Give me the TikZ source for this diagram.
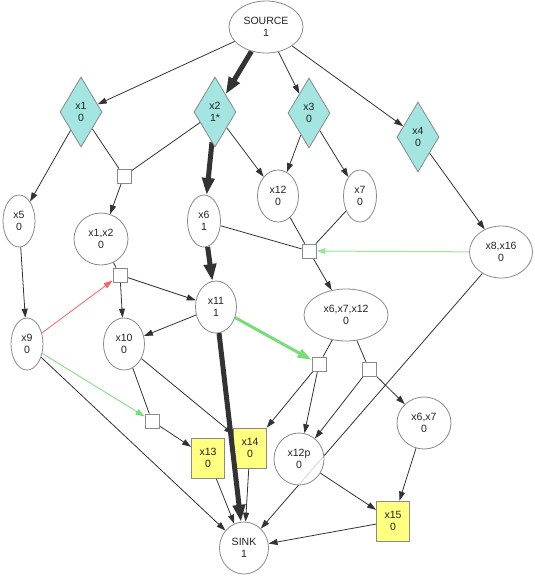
\documentclass[tikz,border=0pt]{standalone}
\usepackage{fontspec}
\setmainfont{Liberation Sans}
\usetikzlibrary{shapes.geometric,arrows.meta,backgrounds}
\definecolor{edgec}{HTML}{333333}
\definecolor{bordc}{HTML}{8A8A8A}
\definecolor{textc}{HTML}{222222}
\definecolor{diac}{HTML}{A3E5E0}
\definecolor{ylw}{HTML}{FFFF80}
\definecolor{redc}{HTML}{FF6060}
\definecolor{grnc}{HTML}{77DD77}
\definecolor{lgrn}{HTML}{99E699}
\begin{document}
\begin{tikzpicture}[x=1pt,y=-1pt,
  every node/.style={font=\fontsize{10.5}{12.5}\selectfont, text=textc, align=center, inner sep=0pt, line width=0.8pt},
  ell/.style={ellipse, draw=bordc, fill=white, fill opacity=0.8, text opacity=1},
  dia/.style={diamond, draw=bordc, fill=diac, minimum width=42pt, minimum height=70pt, aspect=0.6},
  ybox/.style={rectangle, draw=bordc, fill=ylw, minimum width=33pt, minimum height=40pt},
  sq/.style={rectangle, draw=bordc, fill=white, minimum size=14pt},
  arr/.style={draw=edgec, line width=0.8pt, -{Triangle[length=9pt,width=6pt]}},
  lnk/.style={draw=edgec, line width=0.8pt},
  thk/.style={draw=edgec, line width=5pt, -{Triangle[length=17pt,width=12pt]}},
  grthk/.style={draw=grnc, line width=3pt, -{Triangle[length=14pt,width=9pt]}},
  grthin/.style={draw=grnc, line width=0.8pt, -{Triangle[length=9pt,width=6pt]}},
  lgthin/.style={draw=lgrn, line width=1pt, -{Triangle[length=9pt,width=6pt]}},
  rdthin/.style={draw=redc, line width=0.8pt, -{Triangle[length=9pt,width=6pt]}},
]
\useasboundingbox (0,0) rectangle (535,576);

\node[ell, minimum width=74pt, minimum height=52pt] (src) at (266,27) {SOURCE\\1};
\node[dia] (x1) at (81,112) {x1\\0};
\node[dia] (x2) at (215,112) {x2\\1*};
\node[dia] (x3) at (309,113) {x3\\0};
\node[dia] (x4) at (418,137) {x4\\0};
\node[sq] (s1) at (124,176) {};
\node[ell, minimum width=32pt, minimum height=52pt] (x5) at (19,221) {x5\\0};
\node[ell, minimum width=54pt, minimum height=52pt] (x1x2) at (101,239) {x1,x2\\0};
\node[ell, minimum width=33pt, minimum height=52pt] (x6) at (204,221) {x6\\1};
\node[ell, minimum width=41pt, minimum height=52pt] (x12) at (278,196) {x12\\0};
\node[ell, minimum width=33pt, minimum height=52pt] (x7) at (360,196) {x7\\0};
\node[sq] (s2) at (309,251) {};
\node[ell, minimum width=63pt, minimum height=52pt] (x816) at (501,252) {x8,x16\\0};
\node[sq] (s3) at (120,275) {};
\node[ell, minimum width=41pt, minimum height=52pt] (x11) at (216,307) {x11\\1};
\node[ell, minimum width=32pt, minimum height=52pt] (x9) at (27,344) {x9\\0};
\node[ell, minimum width=41pt, minimum height=52pt] (x10) at (124,344) {x10\\0};
\node[ell, minimum width=84pt, minimum height=52pt] (x6712) at (346,315) {x6,x7,x12\\0};
\node[sq] (s4) at (319,364) {};
\node[sq] (s5) at (369,369) {};
\node[sq] (s6) at (152,421) {};
\node[ybox] (x13) at (208,458) {x13\\0};
\node[ybox] (x14) at (250,448) {x14\\0};
\node[ell, minimum width=50pt, minimum height=52pt] (x12p) at (299,459) {x12p\\0};
\node[ell, minimum width=54pt, minimum height=52pt] (x67) at (424,423) {x6,x7\\0};
\node[ybox] (x15) at (393,521) {x15\\0};
\node[ell, minimum width=49pt, minimum height=52pt] (sink) at (244,548) {SINK\\1};

\begin{scope}[on background layer]
\draw[arr] (src) -- (x1);
\draw[thk] (src) -- (x2);
\draw[arr] (src) -- (x3);
\draw[arr] (src) -- (x4);
\draw[arr] (x1) -- (x5);
\draw[lnk] (x1) -- (s1);
\draw[lnk] (x2) -- (s1);
\draw[arr] (s1) -- (x1x2);
\draw[thk] (x2) -- (x6);
\draw[arr] (x2) -- (x12);
\draw[arr] (x3) -- (x12);
\draw[arr] (x3) -- (x7);
\draw[arr] (x4) -- (x816);
\draw[lnk] (x12) -- (s2);
\draw[lnk] (x7) -- (s2);
\draw[lnk] (x6) -- (s2);
\draw[lgthin] (x816) -- (s2);
\draw[arr] (s2) -- (x6712);
\draw[arr] (x5) -- (x9);
\draw[lnk] (x1x2) -- (s3);
\draw[rdthin] (x9) -- (s3);
\draw[arr] (s3) -- (x11);
\draw[arr] (s3) -- (x10);
\draw[thk] (x6) -- (x11);
\draw[arr] (x11) -- (x10);
\draw[grthk] (x11) -- (s4);
\draw[lnk] (x6712) -- (s4);
\draw[lnk] (x6712) -- (s5);
\draw[grthin] (x9) -- (s6);
\draw[lnk] (x10) -- (s6);
\draw[arr] (s6) -- (x13);
\draw[arr] (x10.-40) -- (x14);
\draw[arr] (x9) -- (sink);
\draw[arr] (s4) -- (x14);
\draw[arr] (s4) -- (x12p);
\draw[arr] (s5) -- (x12p);
\draw[arr] (s5) -- (x67);
\draw[arr] (x816) -- (sink);
\draw[arr] (x12p) -- (x15);
\draw[arr] (x67) -- (x15);
\draw[arr] (x13) -- (sink);
\draw[arr] (x14) -- (sink);
\draw[arr] (x15) -- (sink);
\end{scope}
\draw[thk] (x11) -- (sink);
\end{tikzpicture}
\end{document}
